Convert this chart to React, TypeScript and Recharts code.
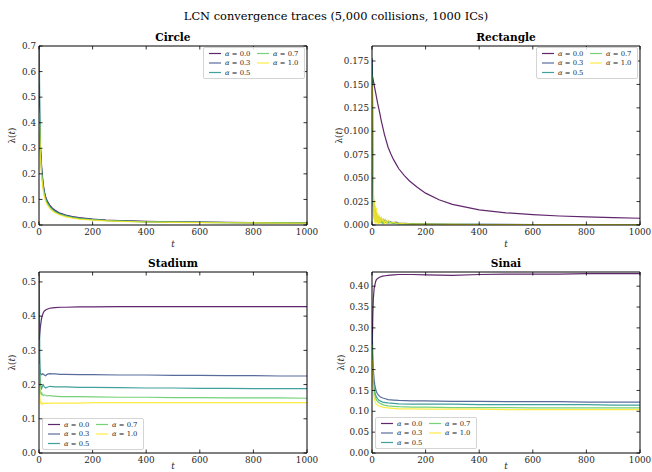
import React from 'react';
import { LineChart, Line, XAxis, YAxis } from 'recharts';

const ALPHA_LABELS = ['0.0', '0.3', '0.5', '0.7', '1.0'];
const COLORS = ['#440154', '#3b528b', '#21918c', '#5ec962', '#fde725'];
const X_TICKS = [0, 200, 400, 600, 800, 1000];
const SUPTITLE = 'LCN convergence traces (5,000 collisions, 1000 ICs)';

// ---------- Circle ----------
const circleT = [1, 3, 5, 8, 10, 15, 20, 25, 30, 40, 50, 60, 75, 100, 125, 150, 200, 250, 300, 400, 500, 600, 700, 800, 900, 1000];
const circleA00 = [0.40, 0.36, 0.31, 0.26, 0.225, 0.165, 0.13, 0.11, 0.096, 0.078, 0.066, 0.058, 0.048, 0.039, 0.033, 0.029, 0.023, 0.019, 0.017, 0.014, 0.012, 0.011, 0.010, 0.0095, 0.009, 0.0085];
const circleA03 = [0.55, 0.40, 0.30, 0.25, 0.215, 0.158, 0.126, 0.106, 0.092, 0.075, 0.063, 0.055, 0.046, 0.037, 0.031, 0.027, 0.022, 0.018, 0.016, 0.013, 0.0115, 0.0105, 0.0098, 0.009, 0.0085, 0.008];
const circleA05 = [0.70, 0.45, 0.32, 0.245, 0.21, 0.155, 0.123, 0.103, 0.09, 0.073, 0.061, 0.053, 0.044, 0.036, 0.030, 0.026, 0.021, 0.0175, 0.0155, 0.0128, 0.0112, 0.0102, 0.0095, 0.0088, 0.0083, 0.0078];
const circleA07 = [0.46, 0.38, 0.29, 0.235, 0.2, 0.148, 0.118, 0.099, 0.086, 0.07, 0.059, 0.051, 0.043, 0.035, 0.029, 0.025, 0.0205, 0.017, 0.015, 0.0125, 0.011, 0.01, 0.0093, 0.0087, 0.0082, 0.0077];
const circleA10 = [0.44, 0.35, 0.27, 0.22, 0.19, 0.14, 0.11, 0.092, 0.08, 0.065, 0.055, 0.048, 0.040, 0.032, 0.027, 0.023, 0.019, 0.016, 0.014, 0.0118, 0.0104, 0.0095, 0.0088, 0.0082, 0.0077, 0.0072];
const circleYTicks = [0, 0.1, 0.2, 0.3, 0.4, 0.5, 0.6, 0.7];

// ---------- Rectangle ----------
const rectT = [1, 3, 5, 7, 9, 11, 13, 15, 17, 19, 21, 24, 27, 30, 34, 38, 42, 46, 50, 55, 60, 70, 80, 90, 100, 120, 140, 170, 200, 250, 300, 400, 500, 600, 700, 800, 900, 1000];
const rectA00 = [0.160, 0.157, 0.154, 0.151, 0.148, 0.145, 0.142, 0.139, 0.136, 0.133, 0.130, 0.126, 0.122, 0.118, 0.112, 0.107, 0.102, 0.097, 0.093, 0.088, 0.083, 0.076, 0.070, 0.065, 0.060, 0.053, 0.047, 0.040, 0.034, 0.027, 0.022, 0.0162, 0.0130, 0.0110, 0.0096, 0.0086, 0.0078, 0.0072];
const rectA03 = [0.178, 0.095, 0.035, 0.014, 0.022, 0.009, 0.017, 0.006, 0.013, 0.005, 0.010, 0.006, 0.009, 0.004, 0.007, 0.003, 0.006, 0.004, 0.005, 0.003, 0.004, 0.003, 0.0025, 0.003, 0.002, 0.0018, 0.0015, 0.0012, 0.0011, 0.0009, 0.0008, 0.0007, 0.0006, 0.0005, 0.0005, 0.0004, 0.0004, 0.0004];
const rectA05 = [0.170, 0.070, 0.020, 0.026, 0.007, 0.016, 0.004, 0.012, 0.005, 0.009, 0.003, 0.008, 0.004, 0.006, 0.003, 0.005, 0.002, 0.005, 0.003, 0.004, 0.002, 0.003, 0.002, 0.002, 0.0015, 0.0014, 0.0012, 0.001, 0.0009, 0.0008, 0.0007, 0.0006, 0.0005, 0.0005, 0.0004, 0.0004, 0.0003, 0.0003];
const rectA07 = [0.160, 0.055, 0.016, 0.008, 0.019, 0.004, 0.012, 0.003, 0.010, 0.004, 0.008, 0.002, 0.007, 0.003, 0.005, 0.002, 0.004, 0.002, 0.004, 0.002, 0.003, 0.002, 0.0018, 0.0015, 0.0013, 0.0012, 0.001, 0.0009, 0.0008, 0.0007, 0.0006, 0.0005, 0.0005, 0.0004, 0.0004, 0.0003, 0.0003, 0.0003];
const rectA10 = [0.150, 0.125, 0.045, 0.005, 0.026, 0.002, 0.021, 0.001, 0.018, 0.002, 0.013, 0.001, 0.011, 0.002, 0.009, 0.003, 0.007, 0.001, 0.006, 0.002, 0.005, 0.002, 0.003, 0.002, 0.002, 0.0015, 0.0012, 0.001, 0.0009, 0.0008, 0.0006, 0.0005, 0.0004, 0.0004, 0.0003, 0.0003, 0.0003, 0.0002];
const rectYTicks = [0, 0.025, 0.05, 0.075, 0.1, 0.125, 0.15, 0.175];

// ---------- Stadium ----------
const stadT = [1, 3, 5, 8, 10, 13, 16, 20, 25, 30, 40, 50, 60, 80, 100, 150, 200, 300, 400, 500, 600, 700, 800, 900, 1000];
const stadA00 = [0.330, 0.350, 0.368, 0.385, 0.395, 0.403, 0.410, 0.415, 0.418, 0.420, 0.423, 0.424, 0.425, 0.426, 0.426, 0.427, 0.427, 0.428, 0.428, 0.428, 0.428, 0.428, 0.428, 0.428, 0.428];
const stadA03 = [0.30, 0.245, 0.232, 0.230, 0.229, 0.232, 0.231, 0.228, 0.226, 0.230, 0.232, 0.231, 0.231, 0.230, 0.230, 0.229, 0.229, 0.228, 0.228, 0.227, 0.227, 0.226, 0.226, 0.225, 0.225];
const stadA05 = [0.52, 0.26, 0.205, 0.192, 0.188, 0.196, 0.199, 0.193, 0.190, 0.192, 0.195, 0.194, 0.193, 0.193, 0.193, 0.192, 0.192, 0.191, 0.190, 0.190, 0.189, 0.189, 0.188, 0.188, 0.188];
const stadA07 = [0.31, 0.20, 0.178, 0.172, 0.176, 0.170, 0.168, 0.170, 0.168, 0.167, 0.168, 0.166, 0.166, 0.165, 0.165, 0.165, 0.164, 0.163, 0.163, 0.162, 0.162, 0.161, 0.161, 0.161, 0.160];
const stadA10 = [0.26, 0.165, 0.150, 0.143, 0.148, 0.145, 0.143, 0.146, 0.145, 0.146, 0.145, 0.146, 0.146, 0.146, 0.146, 0.146, 0.147, 0.147, 0.147, 0.147, 0.147, 0.147, 0.147, 0.147, 0.147];
const stadYTicks = [0, 0.1, 0.2, 0.3, 0.4, 0.5];

// ---------- Sinai ----------
const sinaiT = [1, 3, 5, 8, 10, 13, 16, 20, 25, 30, 40, 50, 60, 80, 100, 150, 200, 300, 400, 500, 600, 700, 800, 900, 1000];
const sinaiA00 = [0.25, 0.33, 0.37, 0.395, 0.40, 0.41, 0.415, 0.418, 0.420, 0.422, 0.424, 0.425, 0.426, 0.427, 0.428, 0.428, 0.427, 0.426, 0.428, 0.429, 0.429, 0.429, 0.430, 0.430, 0.430];
const sinaiA03 = [0.29, 0.23, 0.20, 0.175, 0.165, 0.155, 0.148, 0.142, 0.138, 0.135, 0.132, 0.130, 0.128, 0.127, 0.126, 0.125, 0.125, 0.124, 0.124, 0.123, 0.123, 0.123, 0.122, 0.122, 0.122];
const sinaiA05 = [0.25, 0.20, 0.175, 0.155, 0.148, 0.140, 0.135, 0.131, 0.127, 0.125, 0.122, 0.121, 0.120, 0.119, 0.118, 0.117, 0.117, 0.117, 0.116, 0.116, 0.116, 0.116, 0.116, 0.115, 0.115];
const sinaiA07 = [0.26, 0.19, 0.165, 0.148, 0.140, 0.133, 0.128, 0.124, 0.121, 0.119, 0.116, 0.114, 0.113, 0.112, 0.111, 0.110, 0.110, 0.109, 0.109, 0.109, 0.108, 0.108, 0.108, 0.108, 0.108];
const sinaiA10 = [0.225, 0.17, 0.145, 0.132, 0.127, 0.121, 0.118, 0.115, 0.113, 0.112, 0.110, 0.109, 0.108, 0.107, 0.106, 0.106, 0.105, 0.105, 0.105, 0.104, 0.104, 0.104, 0.104, 0.104, 0.104];
const sinaiYTicks = [0, 0.05, 0.1, 0.15, 0.2, 0.25, 0.3, 0.35, 0.4];

const FONT = '"DejaVu Serif", serif';
const TXT = '#262626';
const TICK_FS = 8.8;

function buildRows(t: number[], series: number[][]) {
  return t.map((tv, i) => {
    const row: Record<string, number> = { t: tv };
    series.forEach((s, k) => { row['a' + k] = s[i]; });
    return row;
  });
}

type PanelCfg = {
  left: number; top: number; width: number; height: number;
  margin: { top: number; right: number; bottom: number; left: number };
  rows: Record<string, number>[];
  yMax: number; yTicks: number[]; decimals: number; title: string; yLabelOffset: number; xLabelGap: number;
};

function Panel({ cfg }: { cfg: PanelCfg }) {
  const { left, top, width, height, margin, rows, yMax, yTicks, decimals, title, yLabelOffset, xLabelGap } = cfg;
  const plotLeft = margin.left + 1;
  const plotTop = margin.top + 1;
  const plotW = width - margin.left - margin.right - 2;
  const plotH = height - margin.top - margin.bottom - 2;
  const bottomTick = (p: any) => (
    <g>
      <line x1={p.x} x2={p.x} y1={p.y} y2={p.y - 3.5} stroke="#000" strokeWidth={0.8} />
      <text x={p.x} y={p.y + 3} dy="0.75em" textAnchor="middle" fontSize={TICK_FS} fontFamily={FONT} fill={TXT}>{p.payload.value}</text>
    </g>
  );
  const topTick = (p: any) => (
    <line x1={p.x} x2={p.x} y1={p.y} y2={p.y + 3.5} stroke="#000" strokeWidth={0.8} />
  );
  const leftTick = (p: any) => (
    <g>
      <line x1={p.x} x2={p.x + 3.5} y1={p.y} y2={p.y} stroke="#000" strokeWidth={0.8} />
      <text x={p.x - 3} y={p.y} dy="0.36em" textAnchor="end" fontSize={TICK_FS} fontFamily={FONT} fill={TXT}>{Number(p.payload.value).toFixed(decimals)}</text>
    </g>
  );
  const rightTick = (p: any) => (
    <line x1={p.x} x2={p.x - 3.5} y1={p.y} y2={p.y} stroke="#000" strokeWidth={0.8} />
  );
  const xLabel = () => (
    <text x={plotLeft + plotW / 2} y={plotTop + plotH + xLabelGap} dy="0.35em" textAnchor="middle" fontSize={TICK_FS} fontStyle="italic" fontFamily={FONT} fill={TXT}>t</text>
  );
  const titleLabel = () => (
    <text x={plotLeft + plotW / 2} y={plotTop - 5.5} textAnchor="middle" fontSize={10.6} fontWeight="bold" fontFamily={FONT} fill="#000">{title}</text>
  );
  const yLabel = () => {
    const cx = plotLeft - yLabelOffset;
    const cy = plotTop + plotH / 2;
    return (
      <text x={cx} y={cy} dy="0.35em" textAnchor="middle" transform={`rotate(-90 ${cx} ${cy})`} fontSize={TICK_FS} fontFamily={FONT} fill={TXT}>
        λ(<tspan fontStyle="italic">t</tspan>)
      </text>
    );
  };
  const axisLine = { stroke: '#000', strokeWidth: 1 };
  return (
    <div style={{ position: 'absolute', left, top, width, height }}>
      <LineChart width={width} height={height} data={rows} margin={margin}>
        <XAxis xAxisId="b" dataKey="t" type="number" domain={[0, 1000]} ticks={X_TICKS} interval={0}
          tickSize={0} tickMargin={0} tickLine={false} axisLine={axisLine}
          height={1} tick={bottomTick} allowDataOverflow label={{ content: xLabel }} />
        <XAxis xAxisId="tp" orientation="top" dataKey="t" type="number" domain={[0, 1000]} ticks={X_TICKS} interval={0}
          tickSize={0} tickMargin={0} tickLine={false} axisLine={axisLine}
          height={1} tick={topTick} allowDataOverflow label={{ content: titleLabel }} />
        <YAxis yAxisId="l" type="number" domain={[0, yMax]} ticks={yTicks} interval={0}
          tickSize={0} tickMargin={0} tickLine={false} axisLine={axisLine}
          width={1} tick={leftTick} allowDataOverflow label={{ content: yLabel }} />
        <YAxis yAxisId="r" orientation="right" type="number" domain={[0, yMax]} ticks={yTicks} interval={0}
          tickSize={0} tickMargin={0} tickLine={false} axisLine={axisLine}
          width={1} tick={rightTick} allowDataOverflow />
        {COLORS.map((c, k) => (
          <Line key={k} xAxisId="b" yAxisId="l" type="linear" dataKey={'a' + k} stroke={c}
            strokeWidth={1.2} strokeOpacity={0.85} dot={false} activeDot={false} isAnimationActive={false} />
        ))}
      </LineChart>
    </div>
  );
}

function LegendBox({ left, top }: { left: number; top: number }) {
  const colX = [6, 54];
  const rowY = [6.5, 16, 25.5];
  const items = ALPHA_LABELS.map((a, k) => ({ a, c: COLORS[k], col: k < 3 ? 0 : 1, row: k < 3 ? k : k - 3 }));
  return (
    <div style={{
      position: 'absolute', left, top, width: 102, height: 32, boxSizing: 'border-box',
      border: '1px solid #d4d4d4', borderRadius: 2, background: 'rgba(255,255,255,0.8)',
    }}>
      <svg width={102} height={32} style={{ position: 'absolute', left: -1, top: -1 }}>
        {items.map((it, i) => (
          <g key={i}>
            <line x1={colX[it.col]} x2={colX[it.col] + 12} y1={rowY[it.row]} y2={rowY[it.row]} stroke={it.c} strokeOpacity={0.85} strokeWidth={1.2} />
            <text x={colX[it.col] + 16} y={rowY[it.row]} dy="0.35em" fontSize={6.8} fontFamily={FONT} fill={TXT}>
              <tspan fontStyle="italic">α</tspan> = {it.a}
            </text>
          </g>
        ))}
      </svg>
    </div>
  );
}

export default function App() {
  const panels: PanelCfg[] = [
    {
      left: 0, top: 26, width: 326, height: 226, margin: { top: 19, right: 18, bottom: 26, left: 38 },
      rows: buildRows(circleT, [circleA00, circleA03, circleA05, circleA07, circleA10]),
      yMax: 0.7, yTicks: circleYTicks, decimals: 1, title: 'Circle', yLabelOffset: 27, xLabelGap: 19,
    },
    {
      left: 326, top: 26, width: 326, height: 226, margin: { top: 19, right: 11, bottom: 26, left: 45 },
      rows: buildRows(rectT, [rectA00, rectA03, rectA05, rectA07, rectA10]),
      yMax: 0.191, yTicks: rectYTicks, decimals: 3, title: 'Rectangle', yLabelOffset: 33, xLabelGap: 19,
    },
    {
      left: 0, top: 252, width: 326, height: 220, margin: { top: 19, right: 18, bottom: 18, left: 38 },
      rows: buildRows(stadT, [stadA00, stadA03, stadA05, stadA07, stadA10]),
      yMax: 0.529, yTicks: stadYTicks, decimals: 1, title: 'Stadium', yLabelOffset: 27, xLabelGap: 13,
    },
    {
      left: 326, top: 252, width: 326, height: 220, margin: { top: 19, right: 11, bottom: 18, left: 45 },
      rows: buildRows(sinaiT, [sinaiA00, sinaiA03, sinaiA05, sinaiA07, sinaiA10]),
      yMax: 0.434, yTicks: sinaiYTicks, decimals: 2, title: 'Sinai', yLabelOffset: 31, xLabelGap: 13,
    },
  ];
  return (
    <div style={{ position: 'absolute', left: 0, top: 0, width: 652, height: 472, background: '#fff', overflow: 'hidden' }}>
      <div style={{ position: 'absolute', left: 20, top: 8, width: 632, textAlign: 'center', fontFamily: FONT, fontSize: 11.4, color: '#000', lineHeight: '16px' }}>
        {SUPTITLE}
      </div>
      {panels.map((p, i) => <Panel key={i} cfg={p} />)}
      <LegendBox left={203} top={47} />
      <LegendBox left={536} top={47} />
      <LegendBox left={42} top={418} />
      <LegendBox left={375} top={417} />
    </div>
  );
}
